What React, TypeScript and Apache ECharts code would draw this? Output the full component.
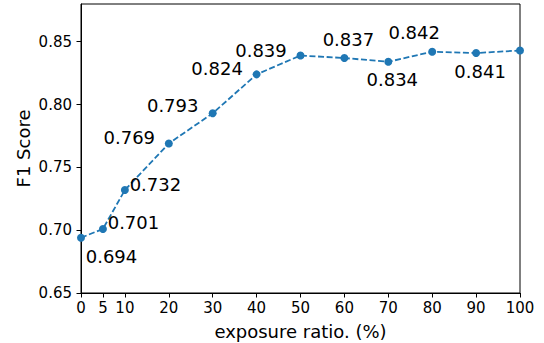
import React, { useEffect, useRef } from "react";
import * as echarts from "echarts";

const exposureRatio = [0, 5, 10, 20, 30, 40, 50, 60, 70, 80, 90, 100];
const f1Score = [0.694, 0.701, 0.732, 0.769, 0.793, 0.824, 0.839, 0.837, 0.834, 0.842, 0.841, 0.843];
const showLabel = [true, true, true, true, true, true, true, true, true, true, true, false];
const xTicks = [0, 5, 10, 20, 30, 40, 50, 60, 70, 80, 90, 100];
const yTicks = [0.65, 0.7, 0.75, 0.8, 0.85];

// label placement (pixels from point centre) – layout, not data
const labelOffsets: [number, number][] = [
  [30.5, 19], [30.5, -6], [30.5, -5], [-39.5, -6], [-40, -7.5], [-39.5, -6],
  [-39.5, -5.5], [4, -19], [4, 18], [-18, -19], [4, 18.5], [0, 0],
];

const FONT = "DejaVu Sans";

export default function App() {
  const ref = useRef<HTMLDivElement>(null);
  useEffect(() => {
    if (!ref.current) return;
    const chart = echarts.init(ref.current, undefined, { renderer: "svg" });
    chart.setOption({
      animation: false,
      backgroundColor: "#ffffff",
      grid: {
        left: 81,
        right: 24,
        top: 4,
        bottom: 50,
        show: true,
        borderColor: "#000",
        borderWidth: 1,
        backgroundColor: "transparent",
        outerBoundsMode: "none",
      },
      xAxis: {
        type: "value",
        min: 0,
        max: 100,
        name: "exposure ratio. (%)",
        nameLocation: "middle",
        nameGap: 29,
        nameMoveOverlap: false,
        nameTextStyle: { fontFamily: FONT, fontSize: 18, color: "#000" },
        axisLine: { show: true, lineStyle: { color: "#000", width: 1 } },
        axisTick: { show: true, length: 4.5, lineStyle: { color: "#000" }, customValues: xTicks },
        axisLabel: { fontFamily: FONT, fontSize: 15, color: "#000", margin: 7, customValues: xTicks },
        splitLine: { show: false },
      },
      yAxis: {
        type: "value",
        min: 0.65,
        max: 0.88,
        name: "F1 Score",
        nameLocation: "middle",
        nameGap: 49,
        nameMoveOverlap: false,
        nameTextStyle: { fontFamily: FONT, fontSize: 18, color: "#000" },
        axisLine: { show: true, lineStyle: { color: "#000", width: 1 } },
        axisTick: { show: true, length: 4.5, lineStyle: { color: "#000" }, customValues: yTicks },
        axisLabel: {
          fontFamily: FONT,
          fontSize: 15,
          color: "#000",
          margin: 9,
          customValues: yTicks,
          formatter: (v: number) => v.toFixed(2),
        },
        splitLine: { show: false },
      },
      series: [
        {
          type: "line",
          data: exposureRatio.map((x, i) => ({
            value: [x, f1Score[i]],
            label: {
              show: showLabel[i],
              offset: labelOffsets[i],
            },
          })),
          symbol: "circle",
          symbolSize: 8,
          itemStyle: { color: "#1f77b4" },
          lineStyle: { color: "#1f77b4", width: 1.8, type: [6, 2.6] },
          label: {
            position: "inside",
            align: "center",
            verticalAlign: "middle",
            fontFamily: FONT,
            fontSize: 18,
            color: "#000",
            formatter: (p: any) => p.value[1].toFixed(3),
          },
        },
      ],
    });
    return () => chart.dispose();
  }, []);
  return (
    <div
      ref={ref}
      style={{ position: "fixed", left: 0, top: 0, width: 544, height: 343 }}
    />
  );
}
